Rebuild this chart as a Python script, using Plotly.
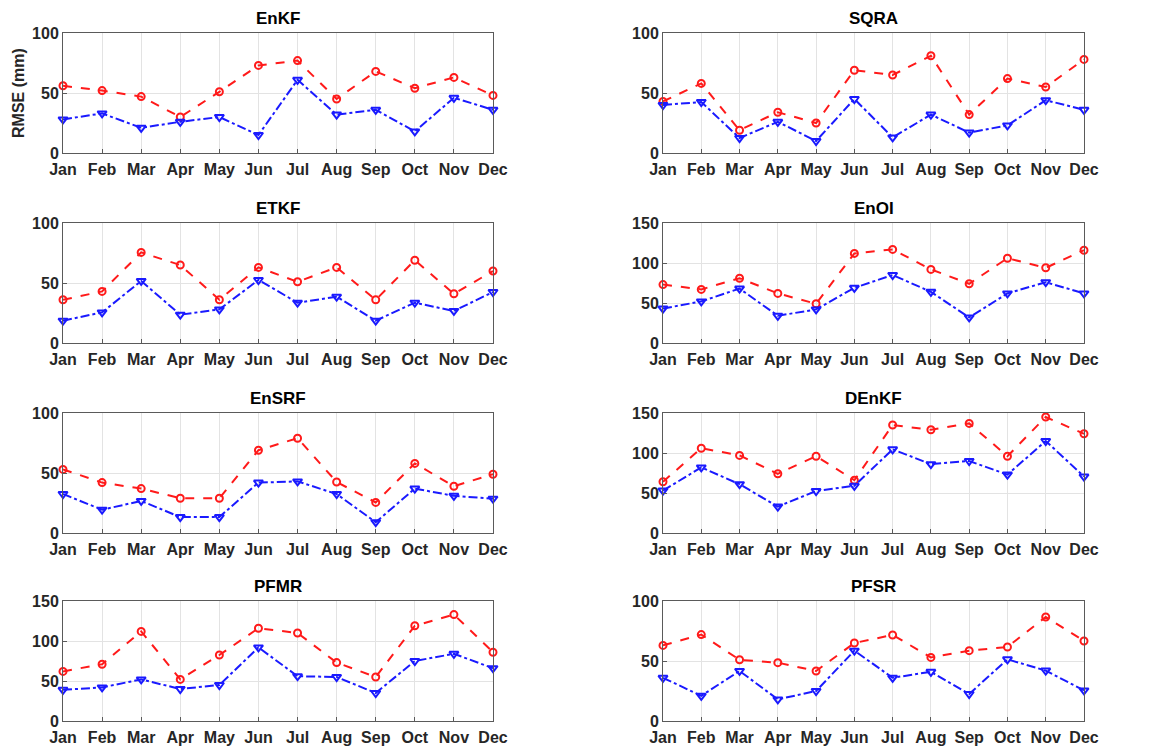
import plotly.graph_objects as go

months = ["Jan", "Feb", "Mar", "Apr", "May", "Jun", "Jul", "Aug", "Sep", "Oct", "Nov", "Dec"]
titles = ["EnKF", "SQRA", "ETKF", "EnOI", "EnSRF", "DEnKF", "PFMR", "PFSR"]
ymax = [100, 100, 100, 150, 100, 150, 150, 100]

red_enkf = [56, 52, 47, 30, 51, 73, 77, 45, 68, 54, 63, 48]
blue_enkf = [28, 33, 21, 26, 30, 15, 61, 32, 36, 18, 46, 36]
red_sqra = [43, 58, 19, 34, 25, 69, 65, 81, 32, 62, 55, 78]
blue_sqra = [40, 42.5, 12.5, 26, 10, 45, 13, 32, 17, 23, 44, 36]
red_etkf = [36, 43, 75.5, 65, 36, 63, 51, 63, 36, 69, 41, 60]
blue_etkf = [18.6, 25.5, 51.7, 23.6, 28, 52.5, 33.6, 38.6, 18.6, 33.6, 26.7, 42.5]
red_enoi = [73, 67, 81, 62, 49, 112, 117, 92, 74, 106, 94, 116]
blue_enoi = [43, 52, 68, 34, 42, 69, 85, 64, 32, 62, 76, 62]
red_ensrf = [53, 42, 37, 29, 29, 69, 79, 42.5, 25.5, 58, 39, 49]
blue_ensrf = [32.5, 19.4, 26.7, 13.3, 13.3, 42, 43, 32.5, 9, 37, 31, 28.6]
red_denkf = [64, 106, 97, 74, 96, 66, 135, 129, 137, 96, 145, 124]
blue_denkf = [53, 82, 61, 33, 52.5, 59, 104.6, 86, 90, 73, 115, 70.6]
red_pfmr = [62, 71, 112, 52, 82.5, 116, 110, 73, 55, 119, 133, 86]
blue_pfmr = [39, 42, 52, 40, 45, 92, 56, 55, 35, 75, 84, 66]
red_pfsr = [63, 72, 51, 48.6, 41.7, 65, 71.7, 53, 58.6, 61.7, 86.7, 66.7]
blue_pfsr = [36, 21, 41.7, 18, 25, 58.6, 36, 41, 22.5, 51.4, 42, 25.5]

reds = [red_enkf, red_sqra, red_etkf, red_enoi, red_ensrf, red_denkf, red_pfmr, red_pfsr]
blues = [blue_enkf, blue_sqra, blue_etkf, blue_enoi, blue_ensrf, blue_denkf, blue_pfmr, blue_pfsr]

W, H = 1150, 750
col_x = [(63, 493), (663, 1084)]
row_y = [(33, 153), (223, 343), (413, 533), (601, 721)]

fig = go.Figure()
font_family = "Liberation Sans, Arial, sans-serif"
xs = list(range(12))


def px_x(p):
    return p / W


def px_y(p):
    return 1 - p / H


for i in range(8):
    r, c = divmod(i, 2)
    n = i + 1
    xa = "x" if n == 1 else f"x{n}"
    ya = "y" if n == 1 else f"y{n}"
    fig.add_trace(go.Scatter(
        x=xs, y=reds[i], mode="lines+markers", xaxis=xa, yaxis=ya,
        line=dict(color="#ff1a1a", width=2, dash="dash"),
        marker=dict(symbol="circle-open", size=7, color="#ff1a1a", line=dict(width=2)),
        cliponaxis=False, showlegend=False))
    fig.add_trace(go.Scatter(
        x=xs, y=blues[i], mode="lines+markers", xaxis=xa, yaxis=ya,
        line=dict(color="#1a1aff", width=2, dash="dashdot"),
        marker=dict(symbol="triangle-down-open", size=8, color="#1a1aff", line=dict(width=2)),
        cliponaxis=False, showlegend=False))
    x0, x1 = col_x[c]
    y0, y1 = row_y[r]
    xkey = "xaxis" if n == 1 else f"xaxis{n}"
    ykey = "yaxis" if n == 1 else f"yaxis{n}"
    fig.update_layout(**{
        xkey: dict(domain=[px_x(x0), px_x(x1)], anchor=ya, range=[0, 11],
                   tickmode="array", tickvals=xs, ticktext=months,
                   showgrid=True, gridcolor="#e3e3e3", gridwidth=1,
                   showline=True, linecolor="#5a5a5a", linewidth=1, mirror=True,
                   ticks="inside", ticklen=4, tickcolor="#5a5a5a",
                   zeroline=False, automargin=False, ticklabelstandoff=2,
                   tickfont=dict(family=font_family, size=16, color="#262626", weight="bold")),
        ykey: dict(domain=[px_y(y1), px_y(y0)], anchor=xa, range=[0, ymax[i]],
                   tickmode="linear", tick0=0, dtick=50,
                   showgrid=True, gridcolor="#e3e3e3", gridwidth=1,
                   showline=True, linecolor="#5a5a5a", linewidth=1, mirror=True,
                   ticks="inside", ticklen=4, tickcolor="#5a5a5a",
                   zeroline=False, automargin=False,
                   tickfont=dict(family=font_family, size=16, color="#262626", weight="bold")),
    })
    fig.add_annotation(x=px_x((x0 + x1) / 2), y=px_y(y0 - 3), xref="paper", yref="paper",
                       text=f"<b>{titles[i]}</b>", showarrow=False,
                       xanchor="center", yanchor="bottom",
                       font=dict(family=font_family, size=17, color="black"))

fig.add_annotation(x=px_x(18), y=px_y(93), xref="paper", yref="paper",
                   text="<b>RMSE (mm)</b>", showarrow=False, textangle=-90,
                   xanchor="center", yanchor="middle",
                   font=dict(family=font_family, size=16, color="#262626"))

fig.update_layout(width=W, height=H, margin=dict(l=0, r=0, t=0, b=0, autoexpand=False),
                  paper_bgcolor="white", plot_bgcolor="white")
fig.write_html("out.html", config={"displayModeBar": False},
               post_script="document.body.style.margin='0';document.body.style.overflow='hidden';")
